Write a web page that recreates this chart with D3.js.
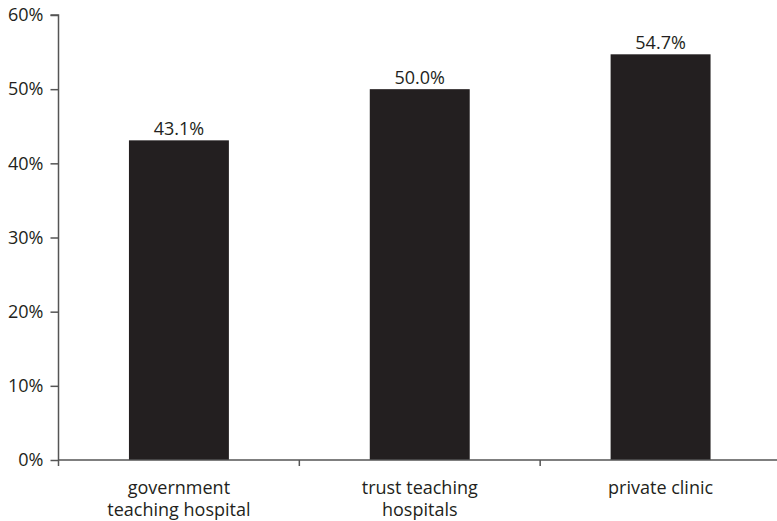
<!DOCTYPE html>
<html><head><meta charset="utf-8">
<script src="https://cdn.jsdelivr.net/npm/d3@7"></script>
<style>body{margin:0;background:#fff}svg{display:block}text{font-family:"Open Sans",sans-serif;fill:#231f20}</style>
</head><body><svg id="c" width="777" height="521"></svg>
<script>
const categories = [["government","teaching hospital"],["trust teaching","hospitals"],["private clinic"]];
const values = [43.1, 50.0, 54.7];
const yTicks = [0,10,20,30,40,50,60];

const svg = d3.select("#c");
const x0 = 58.5, x1 = 781, yTop = 15, yBot = 460;
const fs = 18;
const x = d3.scaleBand().domain(d3.range(categories.length)).range([x0, x1]).padding(0);
const y = d3.scaleLinear().domain([0,60]).range([yBot, yTop]);
const barW = x.bandwidth()*0.415;
const axisColor = "#555";

svg.selectAll("rect.bar").data(values).join("rect").attr("class","bar")
  .attr("x",(d,i)=>x(i)+x.bandwidth()/2-barW/2).attr("width",barW)
  .attr("y",d=>y(d)).attr("height",d=>y(0)-y(d)).attr("fill","#231f20");

svg.selectAll("text.val").data(values).join("text").attr("class","val")
  .attr("x",(d,i)=>x(i)+x.bandwidth()/2).attr("y",d=>y(d)-5)
  .attr("text-anchor","middle").attr("font-size",fs).text(d=>d.toFixed(1)+"%");

// y axis
const ya = svg.append("g").attr("transform",`translate(${x0},0)`)
  .call(d3.axisLeft(y).tickValues(yTicks).tickSize(8).tickPadding(7).tickFormat(d=>d+"%"));
ya.select(".domain").attr("stroke",axisColor).attr("stroke-width",1.5).attr("d",`M-8,${yTop}H0V${yBot}`);
ya.selectAll(".tick line").attr("stroke",axisColor).attr("stroke-width",1.5);
ya.selectAll(".tick text").attr("font-size",fs).attr("font-family","Open Sans").attr("fill","#231f20");

// x axis
const xa = svg.append("g").attr("transform",`translate(0,${yBot})`);
xa.append("line").attr("x1",x0).attr("x2",777).attr("stroke",axisColor).attr("stroke-width",1.5);
const bounds = d3.range(categories.length+1).map(i=>x0+i*x.step());
xa.selectAll("line.t").data(bounds).join("line").attr("class","t")
  .attr("x1",d=>d).attr("x2",d=>d).attr("y1",0).attr("y2",6).attr("stroke",axisColor).attr("stroke-width",1.5);
const lbl = xa.selectAll("text.cat").data(categories).join("text").attr("class","cat")
  .attr("x",(d,i)=>x(i)+x.bandwidth()/2).attr("y",34).attr("text-anchor","middle").attr("font-size",fs);
lbl.selectAll("tspan").data(d=>d).join("tspan")
  .attr("x",function(){return this.parentNode.getAttribute("x");})
  .attr("dy",(d,i)=>i===0?0:22).text(d=>d);
</script></body></html>
